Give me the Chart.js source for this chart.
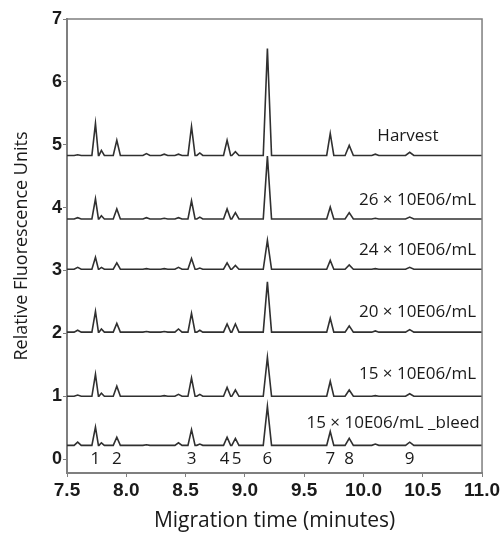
<!DOCTYPE html>
<html>
<head>
<meta charset="utf-8">
<script src="https://cdn.jsdelivr.net/npm/chart.js@4.4.1/dist/chart.umd.min.js"></script>
<style>
  body { margin: 0; background: #fff; }
</style>
</head>
<body>
<canvas id="cge" width="502" height="535"></canvas>
<script>
document.addEventListener('DOMContentLoaded', function () {

	'use strict';

	// samples, top to bottom
	const samples = ['Harvest', '26 × 10E06/mL', '24 × 10E06/mL', '20 × 10E06/mL', '15 × 10E06/mL', '15 × 10E06/mL _bleed'];
	// offset of each trace (baseline, RFU)
	const baselines = [4.83, 3.82, 3.02, 2.02, 1.00, 0.22];

	// migration times of the peaks and small bumps (minutes)
	const peakTimes = [7.59, 7.74, 7.79, 7.92, 8.17, 8.32, 8.44, 8.55, 8.62, 8.85, 8.92, 9.19, 9.72, 9.88, 10.10, 10.39];
	// peak half width at the base (minutes)
	const peakWidths = [0.03, 0.03, 0.025, 0.03, 0.03, 0.03, 0.03, 0.03, 0.025, 0.03, 0.03, 0.035, 0.03, 0.035, 0.03, 0.035];

	// peak heights above baseline, one row per sample
	const harvest   = [0.01, 0.51, 0.08, 0.24, 0.03, 0.02, 0.02, 0.46, 0.04, 0.24, 0.06, 1.70, 0.35, 0.16, 0.02, 0.05];
	const cells26   = [0.02, 0.32, 0.05, 0.16, 0.02, 0.01, 0.02, 0.29, 0.03, 0.16, 0.10, 1.00, 0.19, 0.10, 0.01, 0.03];
	const cells24   = [0.03, 0.19, 0.03, 0.10, 0.01, 0.01, 0.03, 0.17, 0.02, 0.10, 0.06, 0.46, 0.14, 0.07, 0.01, 0.03];
	const cells20   = [0.03, 0.33, 0.05, 0.14, 0.01, 0.01, 0.05, 0.30, 0.03, 0.13, 0.13, 0.80, 0.22, 0.10, 0.02, 0.04];
	const cells15   = [0.02, 0.35, 0.05, 0.16, 0.00, 0.01, 0.03, 0.29, 0.03, 0.14, 0.10, 0.62, 0.24, 0.10, 0.01, 0.04];
	const bleed15   = [0.05, 0.29, 0.04, 0.13, 0.01, 0.00, 0.04, 0.25, 0.02, 0.13, 0.11, 0.62, 0.22, 0.11, 0.02, 0.05];
	const heights = [harvest, cells26, cells24, cells20, cells15, bleed15];

	// numbered peaks
	const peakNumbers = ['1', '2', '3', '4', '5', '6', '7', '8', '9'];
	const peakNumberTimes = [7.74, 7.92, 8.55, 8.83, 8.93, 9.19, 9.72, 9.88, 10.39];

	const xTicks = [7.5, 8.0, 8.5, 9.0, 9.5, 10.0, 10.5, 11.0];
	const yTicks = [0, 1, 2, 3, 4, 5, 6, 7];

	function trace(i) {
		const base = baselines[i];
		const pts = [{ x: 7.5, y: base }];
		peakTimes.forEach(function (t, k) {
			const h = heights[i][k];
			if (h <= 0) return;
			pts.push({ x: t - peakWidths[k], y: base });
			pts.push({ x: t, y: base + h });
			pts.push({ x: t + peakWidths[k], y: base });
		});
		pts.push({ x: 11.0, y: base });
		pts.sort(function (a, b) { return a.x - b.x; });
		return pts;
	}

	const datasets = samples.map(function (name, i) {
		return {
			label: name,
			data: trace(i),
			borderColor: '#303030',
			borderWidth: 1.6,
			pointRadius: 0,
			tension: 0,
			fill: false
		};
	});

	const gray = '#7f7f7f';
	const labelFont = '17px "Open Sans"';

	// frame on top and right, sample names and peak numbers
	const labelsPlugin = {
		id: 'labels',
		afterDatasetsDraw: function (chart) {
			const ctx = chart.ctx;
			const a = chart.chartArea;
			const xs = chart.scales.x;
			const ys = chart.scales.y;
			ctx.save();
			ctx.strokeStyle = gray;
			ctx.lineWidth = 1.5;
			ctx.beginPath();
			ctx.moveTo(a.left, a.top);
			ctx.lineTo(a.right, a.top);
			ctx.lineTo(a.right, a.bottom);
			ctx.stroke();

			ctx.fillStyle = '#1a1a1a';
			ctx.font = labelFont;
			ctx.textBaseline = 'middle';

			const sampleLabelPos = [
				[10.375, 5.13, 'center'],
				[10.95, 4.12, 'right'],
				[10.95, 3.32, 'right'],
				[10.95, 2.34, 'right'],
				[10.95, 1.35, 'right'],
				[10.98, 0.57, 'right']
			];
			samples.forEach(function (name, i) {
				const p = sampleLabelPos[i];
				ctx.textAlign = p[2];
				ctx.fillText(name, xs.getPixelForValue(p[0]), ys.getPixelForValue(p[1]));
			});

			ctx.textAlign = 'center';
			peakNumbers.forEach(function (n, i) {
				ctx.fillText(n, xs.getPixelForValue(peakNumberTimes[i]), ys.getPixelForValue(0));
			});
			ctx.restore();
		}
	};

	new Chart(document.getElementById('cge'), {
		type: 'line',
		data: { datasets: datasets },
		options: {
			responsive: false,
			animation: false,
			layout: { padding: { top: 19, right: 19, left: 0, bottom: 0 } },
			plugins: {
				legend: { display: false },
				tooltip: { enabled: false }
			},
			scales: {
				x: {
					type: 'linear',
					min: 7.5,
					max: 11.0,
					afterBuildTicks: function (scale) {
						scale.ticks = xTicks.map(function (v) { return { value: v }; });
					},
					afterFit: function (scale) { scale.height = 62; },
					border: { display: true, color: gray, width: 2 },
					grid: { display: true, drawOnChartArea: false, drawTicks: true, tickLength: 4, color: gray },
					ticks: {
						padding: 2,
						color: '#1a1a1a',
						font: { family: '"Liberation Sans", Arial', size: 19, weight: 'bold' },
						callback: function (v) { return v.toFixed(1); }
					},
					title: {
						display: true,
						text: 'Migration time (minutes)',
						color: '#1a1a1a',
						font: { family: '"Open Sans"', size: 21 },
						padding: { top: 0, bottom: 1 }
					}
				},
				y: {
					min: -0.22,
					max: 7,
					afterBuildTicks: function (scale) {
						scale.ticks = yTicks.map(function (v) { return { value: v }; });
					},
					afterFit: function (scale) { scale.width = 67; },
					border: { display: true, color: gray, width: 2 },
					grid: { display: true, drawOnChartArea: false, drawTicks: true, tickLength: 4, color: gray },
					ticks: {
						padding: 1,
						color: '#1a1a1a',
						font: { family: '"Liberation Sans", Arial', size: 18, weight: 'bold' }
					},
					title: {
						display: true,
						text: 'Relative Fluorescence Units',
						color: '#1a1a1a',
						font: { family: '"Open Sans"', size: 18 },
						padding: { top: 11, bottom: 0 }
					}
				}
			}
		},
		plugins: [labelsPlugin]
	});
}); // DOMContentLoaded
</script>
</body>
</html>
